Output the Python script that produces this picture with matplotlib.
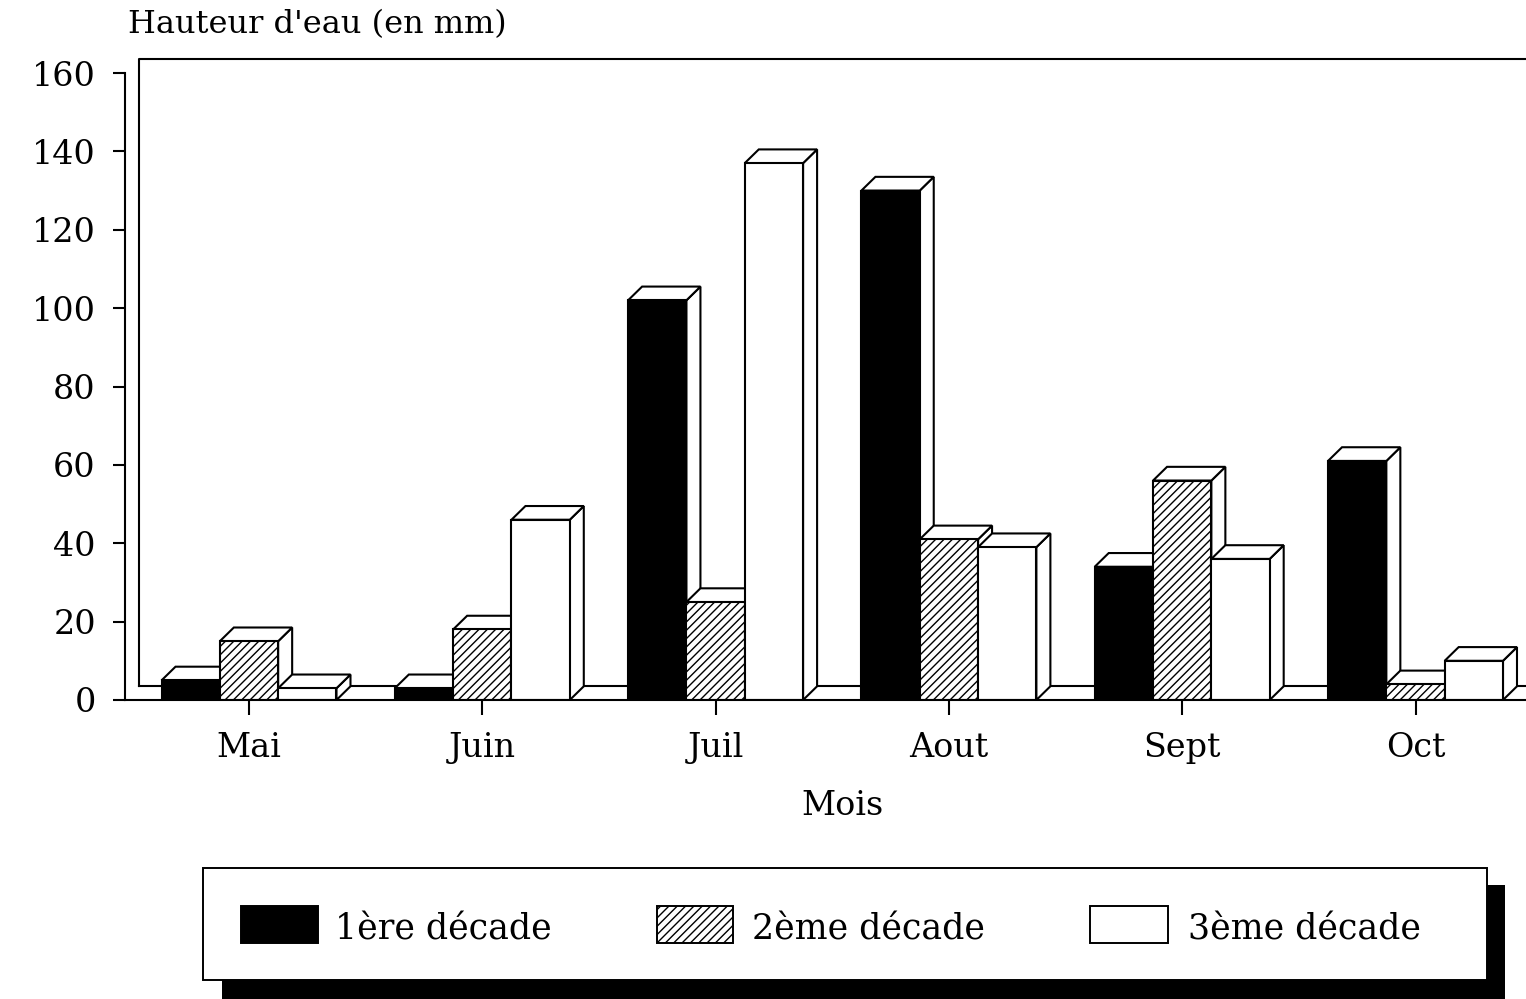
import matplotlib
matplotlib.use('Agg')
import matplotlib.pyplot as plt
from matplotlib.patches import Polygon, Rectangle

# ---- data ----
months = ['Mai', 'Juin', 'Juil', 'Aout', 'Sept', 'Oct']
decade1 = [5, 3, 102, 130, 34, 61]
decade2 = [15, 18, 25, 41, 56, 4]
decade3 = [3, 46, 137, 39, 36, 10]
series_labels = ['1ère décade', '2ème décade', '3ème décade']
yticks = [0, 20, 40, 60, 80, 100, 120, 140, 160]
ylabel = "Hauteur d'eau (en mm)"
xlabel = 'Mois'

plt.rcParams['font.family'] = ['DejaVu Serif']
plt.rcParams['hatch.linewidth'] = 1.0
plt.rcParams['hatch.color'] = 'black'

W, H = 1526, 999
fig = plt.figure(figsize=(W / 100, H / 100), dpi=100)
fig.patch.set_facecolor('white')


def fx(px):
    return px / W


def fy(py):
    return 1 - py / H


ax = fig.add_axes([fx(125), fy(700), fx(1526) - fx(125), fy(41.65) - fy(700)])
xl, xr = -0.5315, 5.4736
ax.set_xlim(xl, xr)
ax.set_ylim(0, 168)
ax.patch.set_alpha(0)

dx, dy = 0.06, 3.5
w = 0.25
lw = 1.5
styles = [dict(fc='black', hatch=None), dict(fc='white', hatch='////'), dict(fc='white', hatch=None)]
series = [decade1, decade2, decade3]

# back wall and floor
ax.plot([xl + dx, xl + dx, xr], [dy, 160 + dy, 160 + dy], color='black', lw=lw,
        clip_on=False, zorder=1)
ax.plot([xl + dx, xr], [dy, dy], color='black', lw=lw, clip_on=False, zorder=1)

for j, vals in enumerate(series):
    for i, h in enumerate(vals):
        x0 = i - 0.375 + j * w
        x1 = x0 + w
        z = 3 + j
        side = Polygon([(x1, 0), (x1 + dx, dy), (x1 + dx, h + dy), (x1, h)], closed=True,
                       fc='white', ec='black', lw=lw, zorder=z, joinstyle='miter')
        top = Polygon([(x0, h), (x1, h), (x1 + dx, h + dy), (x0 + dx, h + dy)], closed=True,
                      fc='white', ec='black', lw=lw, zorder=z, joinstyle='miter')
        st = styles[j]
        front = Rectangle((x0, 0), w, h, fc=st['fc'], ec='black', lw=lw, zorder=z,
                          hatch=st['hatch'])
        ax.add_patch(side)
        ax.add_patch(top)
        ax.add_patch(front)

for s in ['top', 'right']:
    ax.spines[s].set_visible(False)
ax.spines['left'].set_bounds(0, 160)
ax.spines['left'].set_linewidth(lw)
ax.spines['bottom'].set_linewidth(lw)
ax.spines['bottom'].set_zorder(10)

ax.set_yticks(yticks)
ax.set_yticklabels([str(t) for t in yticks])
ax.set_xticks(range(len(months)))
ax.set_xticklabels(months)
ax.tick_params(axis='y', direction='out', length=9, width=lw, pad=12, labelsize=24)
ax.tick_params(axis='x', direction='out', length=11, width=lw, pad=12, labelsize=24)

fig.text(fx(128), fy(25), ylabel, ha='left', va='center', fontsize=23)
fig.text(fx(843), fy(806), xlabel, ha='center', va='center', fontsize=24)

# legend with shadow
fig.add_artist(Rectangle((fx(222), fy(999)), fx(1505) - fx(222), fy(885) - fy(999),
                         transform=fig.transFigure, fc='black', ec='black', lw=0))
fig.add_artist(Rectangle((fx(203), fy(980)), fx(1487) - fx(203), fy(868) - fy(980),
                         transform=fig.transFigure, fc='white', ec='black', lw=1.4))
patch_x = [(241, 318), (657, 733), (1090, 1168)]
text_x = [335, 752, 1188]
for j in range(3):
    a, b = patch_x[j]
    st = styles[j]
    fig.add_artist(Rectangle((fx(a), fy(943)), fx(b) - fx(a), fy(906) - fy(943),
                             transform=fig.transFigure, fc=st['fc'], ec='black', lw=1.4,
                             hatch=st['hatch']))
    fig.text(fx(text_x[j]), fy(930), series_labels[j], ha='left', va='center', fontsize=25)

fig.savefig('out.png', dpi=100, facecolor='white')
